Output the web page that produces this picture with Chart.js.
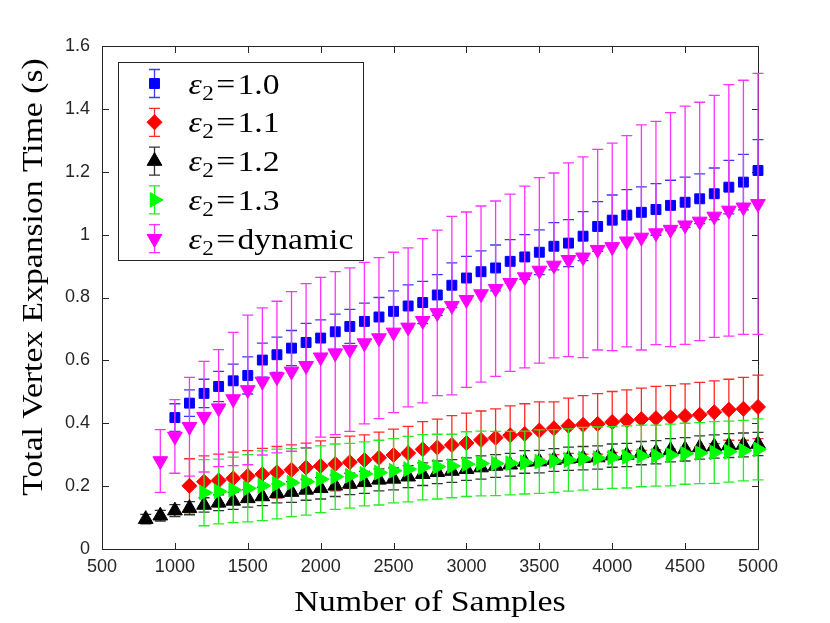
<!DOCTYPE html>
<html lang="en">
<head>
  <meta charset="UTF-8" />
  <title>Total Vertex Expansion Time</title>
  <style>
    html, body { margin: 0; padding: 0; background: #fff; }
    #wrap { width: 830px; height: 623px; }
  </style>
  <script src="https://cdn.jsdelivr.net/npm/chart.js"></script>
</head>
<body>
  <div id="wrap"><canvas id="grafico"></canvas></div>

  <script>
    // number of samples (x), one column per value below
    const samples = [800, 900, 1000, 1100, 1200, 1300, 1400, 1500, 1600, 1700,
                     1800, 1900, 2000, 2100, 2200, 2300, 2400, 2500, 2600, 2700,
                     2800, 2900, 3000, 3100, 3200, 3300, 3400, 3500, 3600, 3700,
                     3800, 3900, 4000, 4100, 4200, 4300, 4400, 4500, 4600, 4700,
                     4800, 4900, 5000];

    const xTicks = [500, 1000, 1500, 2000, 2500, 3000, 3500, 4000, 4500, 5000];
    const xTickLabels = ['500', '1000', '1500', '2000', '2500', '3000', '3500', '4000', '4500', '5000'];
    const yTicks = [0, 0.2, 0.4, 0.6, 0.8, 1.0, 1.2, 1.4, 1.6];
    const yTickLabels = ['0', '0.2', '0.4', '0.6', '0.8', '1', '1.2', '1.4', '1.6'];

    // eps2 = 1.0
    const mean10 = [null, null, 0.418, 0.464, 0.495, 0.517, 0.535, 0.552, 0.601, 0.618,
                    0.639, 0.657, 0.671, 0.691, 0.708, 0.724, 0.738, 0.756, 0.773, 0.784,
                    0.808, 0.839, 0.862, 0.882, 0.894, 0.915, 0.929, 0.944, 0.963, 0.973,
                    0.995, 1.026, 1.046, 1.062, 1.071, 1.080, 1.093, 1.103, 1.114, 1.130,
                    1.151, 1.167, 1.204];
    const err10  = [null, null, 0.044, 0.042, 0.045, 0.048, 0.053, 0.059, 0.054, 0.056,
                    0.056, 0.061, 0.058, 0.056, 0.054, 0.058, 0.062, 0.065, 0.067, 0.067,
                    0.065, 0.071, 0.069, 0.066, 0.073, 0.069, 0.071, 0.071, 0.075, 0.075,
                    0.078, 0.079, 0.080, 0.081, 0.081, 0.082, 0.080, 0.080, 0.079, 0.082,
                    0.085, 0.088, 0.098];

    // eps2 = 1.1
    const mean11 = [null, null, null, 0.201, 0.214, 0.218, 0.225, 0.232, 0.238, 0.244,
                    0.252, 0.259, 0.264, 0.270, 0.276, 0.283, 0.290, 0.299, 0.305, 0.317,
                    0.323, 0.331, 0.337, 0.347, 0.354, 0.362, 0.366, 0.377, 0.384, 0.392,
                    0.395, 0.398, 0.404, 0.409, 0.413, 0.416, 0.419, 0.423, 0.427, 0.435,
                    0.443, 0.446, 0.452];
    const err11  = [null, null, null, 0.086, 0.082, 0.084, 0.083, 0.081, 0.082, 0.082,
                    0.079, 0.078, 0.080, 0.085, 0.083, 0.080, 0.082, 0.082, 0.085, 0.088,
                    0.090, 0.093, 0.095, 0.092, 0.092, 0.093, 0.096, 0.091, 0.084, 0.088,
                    0.093, 0.096, 0.097, 0.097, 0.099, 0.101, 0.101, 0.102, 0.103, 0.100,
                    0.097, 0.100, 0.101];

    // eps2 = 1.2
    const mean12 = [0.095, 0.106, 0.122, 0.130, 0.140, 0.147, 0.153, 0.161, 0.167, 0.177,
                    0.181, 0.188, 0.193, 0.201, 0.207, 0.212, 0.220, 0.223, 0.230, 0.238,
                    0.244, 0.248, 0.254, 0.259, 0.264, 0.268, 0.277, 0.278, 0.283, 0.287,
                    0.289, 0.291, 0.297, 0.299, 0.305, 0.308, 0.314, 0.317, 0.323, 0.326,
                    0.329, 0.331, 0.334];
    const err12  = [0.015, 0.017, 0.019, 0.021, 0.023, 0.025, 0.027, 0.028, 0.029, 0.030,
                    0.033, 0.033, 0.034, 0.034, 0.034, 0.035, 0.035, 0.035, 0.035, 0.036,
                    0.036, 0.036, 0.036, 0.037, 0.036, 0.036, 0.036, 0.036, 0.036, 0.037,
                    0.037, 0.037, 0.037, 0.037, 0.037, 0.037, 0.037, 0.037, 0.037, 0.037,
                    0.038, 0.038, 0.037];

    // eps2 = 1.3
    const mean13 = [null, null, null, null, 0.179, 0.183, 0.188, 0.193, 0.201, 0.207,
                    0.211, 0.214, 0.222, 0.230, 0.233, 0.239, 0.243, 0.249, 0.254, 0.260,
                    0.262, 0.264, 0.270, 0.272, 0.272, 0.273, 0.275, 0.278, 0.280, 0.283,
                    0.287, 0.289, 0.291, 0.293, 0.296, 0.297, 0.299, 0.303, 0.305, 0.307,
                    0.310, 0.313, 0.317];
    const err13  = [null, null, null, null, 0.105, 0.103, 0.104, 0.107, 0.111, 0.111,
                    0.108, 0.106, 0.106, 0.104, 0.103, 0.102, 0.103, 0.102, 0.104, 0.104,
                    0.103, 0.101, 0.103, 0.103, 0.102, 0.101, 0.100, 0.101, 0.100, 0.099,
                    0.100, 0.099, 0.098, 0.099, 0.098, 0.097, 0.098, 0.097, 0.097, 0.098,
                    0.097, 0.096, 0.097];

    // eps2 = dynamic
    const meanDyn = [null, 0.280, 0.358, 0.389, 0.421, 0.448, 0.477, 0.506, 0.533, 0.547,
                     0.565, 0.583, 0.610, 0.623, 0.634, 0.655, 0.671, 0.689, 0.705, 0.726,
                     0.751, 0.774, 0.793, 0.811, 0.828, 0.847, 0.865, 0.886, 0.902, 0.920,
                     0.928, 0.952, 0.961, 0.979, 0.991, 1.005, 1.016, 1.030, 1.042, 1.058,
                     1.077, 1.087, 1.098];
    const errDyn  = [null, 0.100, 0.117, 0.157, 0.176, 0.186, 0.212, 0.238, 0.234, 0.241,
                     0.254, 0.261, 0.254, 0.259, 0.260, 0.257, 0.256, 0.255, 0.253, 0.261,
                     0.263, 0.284, 0.279, 0.280, 0.279, 0.282, 0.289, 0.295, 0.294, 0.308,
                     0.319, 0.319, 0.330, 0.336, 0.358, 0.355, 0.372, 0.379, 0.379, 0.385,
                     0.400, 0.404, 0.415];

    const seriesNames = ['1.0', '1.1', '1.2', '1.3', 'dynamic'];

    const series = [
      { name: seriesNames[0], mean: mean10,  err: err10,  color: '#0000ff', errColor: '#3a3aff', style: 'rect',     rot: 0,   r: 7 },
      { name: seriesNames[1], mean: mean11,  err: err11,  color: '#ff0000', errColor: '#ff2a2a', style: 'rectRot',  rot: 0,   r: 7.5 },
      { name: seriesNames[2], mean: mean12,  err: err12,  color: '#000000', errColor: '#333333', style: 'triangle', rot: 0,   r: 8.5 },
      { name: seriesNames[3], mean: mean13,  err: err13,  color: '#00ff00', errColor: '#22ee22', style: 'triangle', rot: 90,  r: 8.5 },
      { name: seriesNames[4], mean: meanDyn, err: errDyn, color: '#ff00ff', errColor: '#ff33ff', style: 'triangle', rot: 180, r: 8.5 }
    ];

    function pontos(s) {
      const lista = [];
      samples.forEach((n, i) => {
        if (s.mean[i] !== null) lista.push({ x: n, y: s.mean[i], e: s.err[i] });
      });
      return lista;
    }

    const AXIS_COLOR = '#262626';
    const SERIF = '"Liberation Serif", "Times New Roman", serif';

    // draws the error bars of each dataset right before its markers
    const barrasErro = {
      id: 'barrasErro',
      beforeDatasetDraw(chart, args) {
        const ds = chart.data.datasets[args.index];
        const sx = chart.scales.x, sy = chart.scales.y;
        const ctx = chart.ctx;
        ctx.save();
        ctx.strokeStyle = ds.errColor;
        ctx.lineWidth = 1.3;
        ds.data.forEach(p => {
          const x = sx.getPixelForValue(p.x);
          const y1 = sy.getPixelForValue(p.y - p.e);
          const y2 = sy.getPixelForValue(p.y + p.e);
          ctx.beginPath();
          ctx.moveTo(x, y1); ctx.lineTo(x, y2);
          ctx.moveTo(x - 5.5, y1); ctx.lineTo(x + 5.5, y1);
          ctx.moveTo(x - 5.5, y2); ctx.lineTo(x + 5.5, y2);
          ctx.stroke();
        });
        ctx.restore();
      }
    };

    // matlab style box with inward ticks on all four sides
    const caixa = {
      id: 'caixa',
      beforeDatasetsDraw(chart) {
        const { ctx, chartArea: a, scales: { x, y } } = chart;
        const L = a.left + 0.5, R = a.right + 0.5, T = a.top + 0.5, B = a.bottom + 0.5;
        ctx.save();
        ctx.strokeStyle = AXIS_COLOR;
        ctx.lineWidth = 1;
        ctx.strokeRect(L, T, R - L, B - T);
        ctx.beginPath();
        xTicks.forEach(v => {
          const px = Math.round(x.getPixelForValue(v)) + 0.5;
          ctx.moveTo(px, B); ctx.lineTo(px, B - 6.5);
          ctx.moveTo(px, T); ctx.lineTo(px, T + 6.5);
        });
        yTicks.forEach(v => {
          const py = Math.round(y.getPixelForValue(v)) + 0.5;
          ctx.moveTo(L, py); ctx.lineTo(L + 6.5, py);
          ctx.moveTo(R, py); ctx.lineTo(R - 6.5, py);
        });
        ctx.stroke();
        ctx.restore();
      }
    };

    function rotuloEps(ctx, x, y, resto) {
      ctx.save();
      ctx.translate(x, y);
      ctx.scale(1.16, 1);
      ctx.fillStyle = '#000';
      ctx.textAlign = 'left';
      ctx.textBaseline = 'alphabetic';
      ctx.font = 'italic 29px ' + SERIF;
      ctx.fillText('ε', 0, 0);
      let cx = ctx.measureText('ε').width + 0.5;
      ctx.font = '20px ' + SERIF;
      ctx.fillText('2', cx, 6);
      cx += ctx.measureText('2').width + 2;
      ctx.font = '29px ' + SERIF;
      ctx.fillText('=', cx, 0);
      cx += ctx.measureText('=').width + 2;
      ctx.fillText(resto, cx, 0);
      ctx.restore();
    }

    // titles and legend box
    const extras = {
      id: 'extras',
      afterDraw(chart) {
        const { ctx, chartArea: a } = chart;
        ctx.save();
        ctx.fillStyle = '#000';

        // x title
        ctx.font = '29px ' + SERIF;
        ctx.textAlign = 'center';
        ctx.textBaseline = 'alphabetic';
        ctx.save();
        ctx.translate((a.left + a.right) / 2, 611);
        ctx.scale(1.17, 1);
        ctx.fillText('Number of Samples', 0, 0);
        ctx.restore();

        // y title
        ctx.save();
        ctx.translate(42, 277);
        ctx.rotate(-Math.PI / 2);
        ctx.scale(1.16, 1);
        ctx.fillText('Total Vertex Expansion Time (s)', 0, 0);
        ctx.restore();

        // legend
        const bx = a.left + 16.5, by = a.top + 16.5, bw = 245, bh = 198;
        ctx.fillStyle = '#fff';
        ctx.fillRect(bx, by, bw, bh);
        ctx.strokeStyle = AXIS_COLOR;
        ctx.lineWidth = 1;
        ctx.strokeRect(bx, by, bw, bh);

        series.forEach((s, i) => {
          const cy = by + 21 + i * 38.8;
          const mx = bx + 36;
          ctx.strokeStyle = s.errColor;
          ctx.lineWidth = 1.3;
          ctx.beginPath();
          ctx.moveTo(mx, cy - 14); ctx.lineTo(mx, cy + 14);
          ctx.moveTo(mx - 5.5, cy - 14); ctx.lineTo(mx + 5.5, cy - 14);
          ctx.moveTo(mx - 5.5, cy + 14); ctx.lineTo(mx + 5.5, cy + 14);
          ctx.stroke();
          ctx.fillStyle = s.color;
          ctx.strokeStyle = s.color;
          ctx.lineWidth = 1;
          Chart.helpers.drawPoint(ctx, { pointStyle: s.style, rotation: s.rot, radius: s.r, borderWidth: 1 }, mx, cy);
          rotuloEps(ctx, bx + 70, cy + 10, s.name);
        });
        ctx.restore();
      }
    };

    const ctx = document.getElementById('grafico').getContext('2d');
    new Chart(ctx, {
      type: 'scatter',
      data: {
        datasets: series.map((s, i) => ({
          label: s.name,
          data: pontos(s),
          errColor: s.errColor,
          backgroundColor: s.color,
          borderColor: s.color,
          borderWidth: 1,
          pointStyle: s.style,
          rotation: s.rot,
          pointRadius: s.r,
          pointHoverRadius: s.r,
          clip: false,
          order: series.length - i
        }))
      },
      options: {
        responsive: true,
        maintainAspectRatio: false,
        animation: false,
        events: [],
        layout: { padding: { left: 0, right: 72, top: 46, bottom: 0 } },
        plugins: {
          legend: { display: false },
          tooltip: { enabled: false }
        },
        scales: {
          x: {
            type: 'linear',
            min: 500,
            max: 5000,
            afterFit: s => { s.height = 74; },
            afterBuildTicks: s => { s.ticks = xTicks.map(v => ({ value: v })); },
            grid: { display: false, drawTicks: false },
            border: { display: false },
            ticks: {
              padding: 7,
              color: AXIS_COLOR,
              font: { family: '"Liberation Sans", Arial, sans-serif', size: 18 },
              callback: (v, i) => xTickLabels[i]
            }
          },
          y: {
            type: 'linear',
            min: 0,
            max: 1.6,
            afterFit: s => { s.width = 102; },
            afterBuildTicks: s => { s.ticks = yTicks.map(v => ({ value: v })); },
            grid: { display: false, drawTicks: false },
            border: { display: false },
            ticks: {
              padding: 12,
              color: AXIS_COLOR,
              font: { family: '"Liberation Sans", Arial, sans-serif', size: 18 },
              callback: (v, i) => yTickLabels[i]
            }
          }
        }
      },
      plugins: [caixa, barrasErro, extras]
    });
  </script>
</body>
</html>
